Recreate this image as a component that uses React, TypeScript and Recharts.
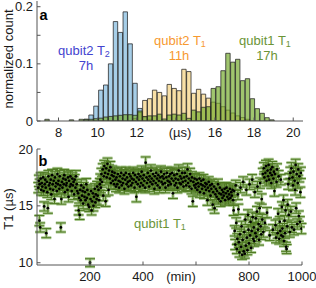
import React from 'react';
import { ComposedChart, Bar, XAxis, YAxis, Scatter, ErrorBar, ZAxis } from 'recharts';

const FONT = '"Liberation Sans", Arial, Helvetica, sans-serif';
const AX = '#555';
const MU = '\u00b5';

// ---------- panel a: histogram ----------
const binCenters = [
  7.425, 7.675, 7.925, 8.175, 8.425, 8.675, 8.925, 9.175, 9.425, 9.675, 9.925, 10.175,
  10.425, 10.675, 10.925, 11.175, 11.425, 11.675, 11.925, 12.175, 12.425, 12.675, 12.925, 13.175,
  13.425, 13.675, 13.925, 14.175, 14.425, 14.675, 14.925, 15.175, 15.425, 15.675, 15.925, 16.175,
  16.425, 16.675, 16.925, 17.175, 17.425, 17.675, 17.925, 18.175, 18.425, 18.675, 18.925, 19.175,
];
const qubit2T2 = [
  0, 0, 0, 0, 0, 0, 0, 0, 0.003, 0.0105, 0.026, 0.054,
  0.063, 0.1, 0.174, 0.155, 0.191, 0.135, 0.066, 0.022, 0.008, 0.003, 0, 0,
  0, 0, 0, 0, 0, 0, 0, 0, 0, 0, 0, 0,
  0, 0, 0, 0, 0, 0, 0, 0, 0, 0, 0, 0,
];
const qubit2T1 = [
  0, 0, 0, 0, 0, 0, 0, 0, 0, 0, 0, 0,
  0, 0, 0, 0, 0, 0, 0.004, 0.015, 0.036, 0.039, 0.054, 0.05,
  0.044, 0.064, 0.057, 0.053, 0.0905, 0.0865, 0.0485, 0.0555, 0.047, 0.04, 0.033, 0.031,
  0.025, 0.019, 0.014, 0.009, 0.006, 0.003, 0, 0, 0, 0, 0, 0,
];
const qubit1T1Hist = [
  0.003, 0, 0, 0, 0, 0.002, 0, 0.003, 0.003, 0.003, 0.004, 0.005,
  0.007, 0.008, 0.009, 0.01, 0.011, 0.011, 0.01, 0.0175, 0.0075, 0.009, 0.009, 0.012,
  0.0035, 0.0105, 0.012, 0.0105, 0.0135, 0.0047, 0.019, 0.016, 0.024, 0.025, 0.057, 0.06,
  0.088, 0.1185, 0.103, 0.108, 0.0706, 0.074, 0.039, 0.0216, 0.0135, 0.0058, 0.002, 0,
];
const histXTicks = [8, 10, 12, 14, 16, 18, 20];
const histXLabels = [8, 10, 12, 16, 18, 20];
const histYTicks = [0, 0.05, 0.1, 0.15, 0.2];
const histYLabels = [0, 0.1, 0.2];

const histData = binCenters.map((bin, i) => ({
  bin,
  t2: qubit2T2[i],
  q2: qubit2T1[i],
  q1: qubit1T1Hist[i],
}));

// ---------- panel b: T1 vs time  [min, T1 (us), error] ----------
const qubit1T1: [number, number, number][] = [
  [5,16.6,.45],[7,17.2,.5],[9,13.7,.45],[10,16.9,.45],[12,13.1,.4],[14,17.4,.5],[16,16.4,.45],[18,17.0,.45],
  [20,16.7,.5],[23,17.5,.45],[25,16.3,.4],[27,14.95,.4],[29,16.9,.45],[31,17.3,.5],[33,16.6,.45],[35,12.6,.4],
  [37,17.1,.45],[39,16.2,.45],[41,14.8,.45],[43,17.6,.5],[45,16.8,.45],[48,17.0,.45],[50,16.5,.4],[52,17.3,.5],
  [54,16.0,.45],[57,17.7,.5],[59,16.9,.45],[61,16.4,.45],[63,17.2,.45],[66,15.6,.4],[68,17.5,.5],[70,16.7,.45],
  [72,17.0,.45],[75,16.3,.45],[77,17.8,.5],[79,16.9,.45],[81,17.2,.45],[84,16.5,.45],[86,17.6,.5],[88,16.8,.45],
  [90,13.1,.4],[92,15.6,.45],[94,17.1,.45],[96,16.6,.45],[99,17.4,.5],[101,16.9,.45],[103,17.7,.5],[105,16.2,.45],
  [108,17.3,.45],[110,16.8,.45],[112,17.0,.45],[115,16.4,.45],[117,17.5,.5],[119,15.8,.45],[121,17.2,.45],[124,16.7,.45],
  [126,17.6,.5],[128,16.9,.45],[131,16.3,.45],[133,17.4,.5],[135,16.8,.45],[138,17.1,.45],[140,16.0,.45],[142,17.3,.45],
  [145,16.6,.45],[147,17.6,.5],[150,16.9,.45],[152,16.3,.45],
  [155,16.1,.45],[157,14.6,.4],[159,15.7,.45],[161,14.2,.4],[163,16.4,.45],[165,15.5,.45],[167,16.8,.5],[170,15.9,.45],
  [172,16.3,.45],[174,15.2,.45],[176,16.6,.45],[179,15.8,.45],[181,16.2,.45],[183,15.5,.45],[186,16.9,.5],[188,15.7,.45],
  [190,16.4,.45],[193,15.1,.45],[195,16.0,.45],[197,14.9,.4],[200,10.0,.35],[202,15.6,.45],[204,16.3,.45],[206,14.6,.4],
  [208,15.4,.45],[211,16.1,.45],[213,15.0,.45],[215,15.8,.45],[218,16.5,.45],[220,15.3,.45],[222,16.0,.45],[225,15.6,.45],
  [227,16.7,.45],[229,15.9,.45],[232,16.4,.45],[234,15.5,.45],[237,16.9,.5],
  [239,17.3,.5],[241,16.6,.45],[243,17.8,.5],[245,17.1,.45],[248,18.2,.5],[250,15.9,.45],[252,17.6,.5],[254,18.5,.5],
  [257,17.9,.5],[259,15.4,.45],[261,18.3,.5],[263,17.5,.45],[266,18.7,.5],[268,17.8,.5],[270,16.4,.45],[272,18.1,.5],
  [275,17.4,.45],[277,18.4,.5],[279,17.0,.45],[282,17.7,.5],[284,18.0,.5],[286,17.2,.45],[289,17.6,.5],[291,16.9,.45],
  [293,17.9,.5],[296,17.3,.45],[298,16.7,.45],
  [300,17.5,.5],[303,16.9,.45],[305,17.8,.5],[308,17.2,.45],[310,16.6,.45],[313,17.6,.5],[315,17.1,.45],[318,17.9,.5],
  [320,16.8,.45],[323,17.4,.45],[325,17.0,.45],[328,17.7,.5],[330,16.5,.45],[333,17.3,.45],[335,17.9,.5],[338,16.9,.45],
  [340,17.5,.5],[343,17.1,.45],[345,16.7,.45],[348,17.8,.5],[350,17.2,.45],[353,17.6,.5],[355,16.8,.45],[358,17.4,.45],
  [360,17.0,.45],[363,17.9,.5],[365,17.3,.45],[368,16.6,.45],[370,17.7,.5],[373,17.1,.45],[375,15.8,.45],[378,17.5,.5],
  [380,16.9,.45],[383,17.8,.5],[385,17.3,.45],[388,16.7,.45],[390,17.6,.5],[393,17.0,.45],[395,18.0,.5],[398,17.4,.45],
  [400,16.8,.45],[403,17.7,.5],[405,17.2,.45],[408,16.6,.45],[410,18.8,.5],[413,17.5,.5],[415,17.0,.45],[418,17.9,.5],
  [420,17.3,.45],[423,16.7,.45],[425,17.6,.5],[428,17.1,.45],[430,18.1,.5],[433,17.4,.45],[435,16.9,.45],[438,17.8,.5],
  [440,17.2,.45],[443,16.5,.45],[445,17.6,.5],[448,17.0,.45],[450,17.9,.5],[453,17.4,.45],[455,16.8,.45],[458,17.7,.5],
  [460,17.2,.45],[463,16.6,.45],[465,17.5,.5],[468,18.0,.5],[470,17.1,.45],[473,17.6,.5],[475,16.9,.45],[478,17.4,.45],
  [480,17.8,.5],[483,17.0,.45],[485,16.6,.45],[488,17.5,.5],[490,17.9,.5],[493,17.2,.45],[495,16.8,.45],[498,17.6,.5],
  [500,17.1,.45],[503,17.8,.5],[505,16.9,.45],[508,17.4,.45],[510,17.9,.5],[513,16.1,.45],[515,17.2,.45],[518,17.7,.5],
  [520,16.8,.45],[523,17.4,.45],[525,17.0,.45],[528,17.8,.5],[530,16.6,.45],[533,17.3,.45],[535,18.1,.5],[538,17.0,.45],
  [540,17.6,.5],[543,16.9,.45],[545,17.4,.45],[548,17.9,.5],[550,17.1,.45],[553,16.7,.45],[555,17.5,.5],[558,17.9,.5],
  [560,17.2,.45],[563,16.8,.45],[565,17.6,.5],[568,18.2,.5],[570,17.0,.45],[573,17.4,.45],[575,16.7,.45],[578,17.8,.5],
  [580,17.2,.45],[583,16.5,.45],[585,17.5,.5],[588,15.4,.45],[590,17.1,.45],[593,16.8,.45],[595,17.4,.45],[598,16.6,.45],
  [600,16.9,.45],[603,17.3,.45],[605,16.4,.45],[608,17.0,.45],[610,16.7,.45],[613,17.4,.5],[615,16.2,.45],[618,16.9,.45],
  [620,17.2,.45],[623,16.5,.45],[625,16.8,.45],[628,17.3,.45],[630,16.1,.45],[633,16.7,.45],[635,17.0,.45],[638,16.4,.45],
  [640,16.9,.45],[643,15.5,.45],[645,16.6,.45],[648,17.1,.45],[650,16.3,.45],[653,16.8,.45],[655,15.9,.45],[658,16.5,.45],
  [660,16.9,.45],[663,15.1,.45],[665,16.2,.45],[668,16.7,.45],[670,14.8,.45],[673,16.0,.45],[675,16.5,.45],[678,15.8,.45],
  [680,16.3,.45],[683,16.9,.45],[685,15.6,.45],[688,16.1,.45],[690,16.6,.45],[693,15.4,.45],[695,16.0,.45],[698,16.4,.45],
  [700,15.7,.45],[703,16.2,.45],[705,15.9,.45],[708,16.5,.45],[710,15.5,.45],[713,16.1,.45],[715,16.6,.45],[718,15.8,.45],
  [720,16.3,.45],[723,15.6,.45],[725,16.0,.45],[728,16.5,.45],[730,15.7,.45],[733,16.2,.45],[735,15.9,.45],[738,16.4,.45],
  [740,15.5,.45],
  [742,14.6,.45],[744,16.3,.45],[746,12.8,.45],[748,11.6,.45],[750,16.8,.45],[752,13.5,.45],[754,11.2,.4],[756,12.1,.45],
  [758,16.0,.45],[760,14.7,.45],[762,11.8,.45],[764,10.9,.4],[766,12.5,.45],[768,16.6,.45],[770,11.4,.4],[772,13.2,.45],
  [774,10.7,.4],[776,12.0,.45],[778,17.1,.45],[780,11.0,.4],[782,12.7,.45],[784,10.8,.4],[786,13.8,.45],[788,11.5,.4],
  [790,16.4,.45],[792,12.2,.45],[794,11.1,.4],[796,14.2,.45],[798,12.9,.45],[800,11.7,.4],[802,16.9,.45],[804,12.4,.45],
  [806,13.6,.45],[808,11.3,.4],[810,12.8,.45],[812,17.3,.45],[814,14.0,.45],[816,12.1,.45],[818,13.1,.45],[820,11.9,.45],
  [822,16.2,.45],[824,12.6,.45],[826,13.9,.45],[828,12.3,.45],[830,14.5,.45],[832,16.7,.45],[834,12.9,.45],[836,13.4,.45],
  [838,12.0,.45],[840,14.8,.45],[842,17.0,.45],[844,13.2,.45],[846,12.5,.45],[848,15.6,.45],[850,13.8,.45],[852,17.8,.5],
  [854,12.7,.45],[856,18.3,.5],[858,17.5,.5],[860,13.5,.45],[862,17.9,.5],[864,18.5,.5],[866,17.2,.45],[868,14.4,.45],
  [870,18.1,.5],[872,17.6,.5],[874,18.6,.5],[876,17.3,.45],[878,12.4,.45],[880,17.9,.5],[882,18.2,.5],[884,17.0,.45],
  [886,17.7,.5],[888,18.4,.5],[890,12.9,.45],[892,17.4,.45],[894,18.0,.5],[896,16.3,.45],[898,17.8,.5],[900,13.3,.45],
  [902,12.2,.45],[904,17.1,.45],[906,18.2,.5],[908,12.6,.45],[910,14.3,.45],[912,17.6,.5],[914,12.1,.45],[916,13.6,.45],
  [918,12.8,.45],[920,17.3,.45],[922,12.4,.45],[924,14.9,.45],[926,13.0,.45],[928,12.3,.45],[930,15.5,.45],[932,11.9,.45],
  [934,13.7,.45],[936,12.6,.45],[938,14.6,.45],[940,11.4,.4],[942,11.2,.4],[944,13.2,.45],[946,15.1,.45],[948,16.9,.45],
  [950,14.2,.45],[952,17.4,.45],[954,12.7,.45],[956,17.9,.5],[958,14.5,.45],[960,18.3,.5],[962,13.1,.45],[964,17.5,.5],
  [966,16.8,.45],[968,18.0,.5],[970,12.9,.45],[972,17.2,.45],[974,16.4,.45],[976,18.6,.5],[978,14.8,.45],[980,17.8,.5],
  [982,13.4,.45],[984,17.0,.45],[986,18.2,.5],[988,14.1,.45],[990,17.6,.5],[992,13.6,.45],[994,16.2,.45],[996,17.9,.5],
  [998,13.0,.45],
];
const timeTicks = [200, 400, 600, 800, 1000];
const timeLabels = [200, 400, 800, 1000];
const t1Ticks = [10, 15, 20];

const scatterData = qubit1T1.map(([t, v, e]) => ({ t, v, e }));

// ---------- tick renderers ----------
const TL = 3.5;
const textStyle = { fontFamily: FONT, fontSize: 13, fill: '#1a1a1a' } as const;

const bottomTick = (labels: number[]) => (p: any) => (
  <g>
    <line x1={p.x} y1={p.y} x2={p.x} y2={p.y - TL} stroke={AX} strokeWidth={1} />
    {labels.includes(p.payload.value) ? (
      <text x={p.x} y={p.y + 16} textAnchor="middle" {...textStyle}>{String(p.payload.value)}</text>
    ) : null}
  </g>
);
const topTick = (p: any) => (
  <line x1={p.x} y1={p.y} x2={p.x} y2={p.y + TL} stroke={AX} strokeWidth={1} />
);
const leftTick = (labels: number[]) => (p: any) => (
  <g>
    <line x1={p.x} y1={p.y} x2={p.x + TL} y2={p.y} stroke={AX} strokeWidth={1} />
    {labels.includes(p.payload.value) ? (
      <text x={p.x - 4} y={p.y + 4.6} textAnchor="end" {...textStyle}>{String(p.payload.value)}</text>
    ) : null}
  </g>
);
const rightTick = (p: any) => (
  <line x1={p.x} y1={p.y} x2={p.x - TL} y2={p.y} stroke={AX} strokeWidth={1} />
);

const BAR_STROKE = '#222';
const hiddenX = { type: 'number' as const, dataKey: 'bin', domain: [6.9, 20.5], hide: true, allowDataOverflow: true,
  tick: false, axisLine: false, tickLine: false, height: 0 };

function HistPanel() {
  return (
    <ComposedChart width={316} height={145} data={histData} margin={{ top: 1, right: 13, bottom: 0, left: 0 }}>
      <XAxis xAxisId="main" type="number" dataKey="bin" domain={[6.9, 20.5]} ticks={histXTicks}
        axisLine={{ stroke: AX }} tickLine={false} tickSize={0} tickMargin={0} height={24}
        tick={bottomTick(histXLabels)} interval={0} allowDataOverflow />
      <XAxis xAxisId="top" orientation="top" type="number" dataKey="bin" domain={[6.9, 20.5]} ticks={histXTicks}
        axisLine={{ stroke: AX }} tickLine={false} tickSize={0} tickMargin={0} height={0}
        tick={topTick} interval={0} allowDataOverflow />
      <XAxis xAxisId="h1" {...hiddenX} />
      <XAxis xAxisId="h2" {...hiddenX} />
      <XAxis xAxisId="h3" {...hiddenX} />
      <YAxis yAxisId="l" type="number" domain={[0, 0.21]} ticks={histYTicks} width={37}
        axisLine={{ stroke: AX }} tickLine={false} tickSize={0} tickMargin={0} interval={0}
        tick={leftTick(histYLabels)} allowDataOverflow
        label={{
          content: () => (
            <text x={12.5} y={59} transform="rotate(-90 12.5 59)" textAnchor="middle" {...textStyle}>normalized count</text>
          ),
        }} />
      <YAxis yAxisId="r" orientation="right" type="number" domain={[0, 0.21]} ticks={histYTicks} width={0}
        axisLine={{ stroke: AX }} tickLine={false} tickSize={0} tickMargin={0} interval={0}
        tick={rightTick} allowDataOverflow />
      <Bar xAxisId="h1" yAxisId="l" dataKey="t2" barSize={4.9} fill="#0072bd" fillOpacity={0.35}
        stroke={BAR_STROKE} strokeOpacity={0.75} strokeWidth={1} isAnimationActive={false} />
      <Bar xAxisId="h2" yAxisId="l" dataKey="q2" barSize={4.9} fill="#edb120" fillOpacity={0.4}
        stroke={BAR_STROKE} strokeOpacity={0.75} strokeWidth={1} isAnimationActive={false} />
      <Bar xAxisId="h3" yAxisId="l" dataKey="q1" barSize={4.9} fill="#77ac30" fillOpacity={0.7}
        stroke={BAR_STROKE} strokeOpacity={0.75} strokeWidth={1} isAnimationActive={false} />
      <text x={180} y={137} textAnchor="middle" {...textStyle}>{`(${MU}s)`}</text>
      <text x={39.5} y={19.5} fontFamily={FONT} fontSize={14.5} fontWeight="bold" fill="#000">a</text>
      <text x={84} y={55} textAnchor="middle" fontFamily={FONT} fontSize={13} fill="#4343cf">
        qubit2 T<tspan fontSize={9} dy={2}>2</tspan>
      </text>
      <text x={86} y={70} textAnchor="middle" fontFamily={FONT} fontSize={13} fill="#4343cf">7h</text>
      <text x={180} y={45} textAnchor="middle" fontFamily={FONT} fontSize={13} fill="#f7992f">
        qubit2 T<tspan fontSize={9} dy={2}>1</tspan>
      </text>
      <text x={179} y={59.5} textAnchor="middle" fontFamily={FONT} fontSize={13} fill="#f7992f">11h</text>
      <text x={265} y={45} textAnchor="middle" fontFamily={FONT} fontSize={13} fill="#6b9436">
        qubit1 T<tspan fontSize={9} dy={2}>1</tspan>
      </text>
      <text x={267} y={59.5} textAnchor="middle" fontFamily={FONT} fontSize={13} fill="#6b9436">17h</text>
    </ComposedChart>
  );
}

// bottom chart starts at y=138; plot area spans y 149..265
function TimePanel() {
  return (
    <ComposedChart width={316} height={150} margin={{ top: 11, right: 14, bottom: 0, left: 0 }}>
      <XAxis xAxisId="main" type="number" dataKey="t" domain={[0, 1000]} ticks={timeTicks}
        axisLine={{ stroke: AX }} tickLine={false} tickSize={0} tickMargin={0} height={23}
        tick={bottomTick(timeLabels)} interval={0} allowDataOverflow />
      <XAxis xAxisId="top" orientation="top" type="number" dataKey="t" domain={[0, 1000]} ticks={timeTicks}
        axisLine={{ stroke: AX }} tickLine={false} tickSize={0} tickMargin={0} height={0}
        tick={topTick} interval={0} allowDataOverflow />
      <YAxis yAxisId="l" type="number" dataKey="v" domain={[9.8, 20]} ticks={t1Ticks} width={37}
        axisLine={{ stroke: AX }} tickLine={false} tickSize={0} tickMargin={0} interval={0}
        tick={leftTick(t1Ticks)} allowDataOverflow
        label={{
          content: () => (
            <text x={13} y={71} transform="rotate(-90 13 71)" textAnchor="middle" {...textStyle}>{`T1 (${MU}s)`}</text>
          ),
        }} />
      <YAxis yAxisId="r" orientation="right" type="number" domain={[9.8, 20]} ticks={t1Ticks} width={0}
        axisLine={{ stroke: AX }} tickLine={false} tickSize={0} tickMargin={0} interval={0}
        tick={rightTick} allowDataOverflow />
      <ZAxis range={[6, 6]} />
      <Scatter xAxisId="main" yAxisId="l" data={scatterData} dataKey="v" fill="#000" shape="circle" isAnimationActive={false}>
        <ErrorBar dataKey="e" direction="y" width={5} stroke="#abc992" strokeWidth={3} />
        <ErrorBar dataKey="e" direction="y" width={5} stroke="#4f7a22" strokeWidth={1} />
      </Scatter>
      <text x={181} y={143} textAnchor="middle" {...textStyle}>(min)</text>
      <text x={38.5} y={27.5} fontFamily={FONT} fontSize={14.5} fontWeight="bold" fill="#000">b</text>
      <text x={160} y={90} textAnchor="middle" fontFamily={FONT} fontSize={13} fill="#6b9436">
        qubit1 T<tspan fontSize={9} dy={2}>1</tspan>
      </text>
    </ComposedChart>
  );
}

export default function App() {
  return (
    <div style={{ position: 'absolute', left: 0, top: 0, width: 316, height: 288, background: '#fff' }}>
      <div style={{ position: 'absolute', left: 0, top: 0 }}>
        <HistPanel />
      </div>
      <div style={{ position: 'absolute', left: 0, top: 138 }}>
        <TimePanel />
      </div>
    </div>
  );
}
